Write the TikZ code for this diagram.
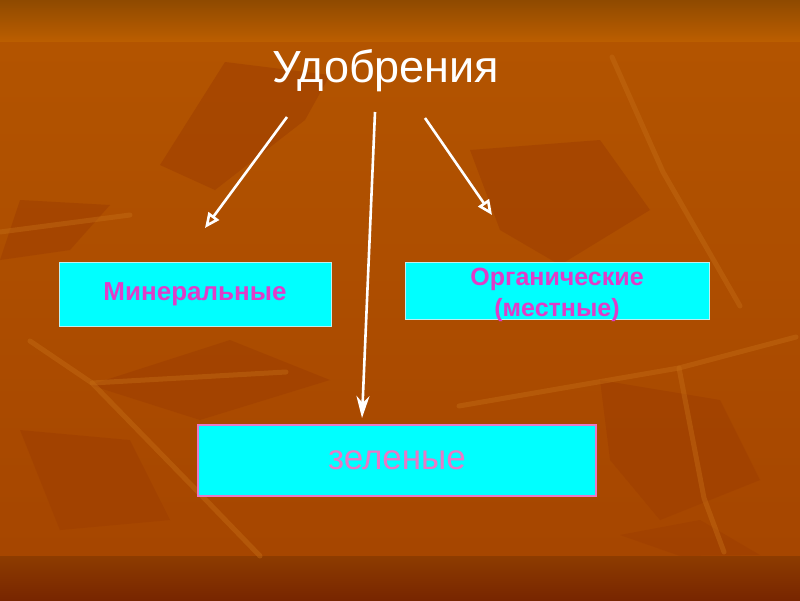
\documentclass[tikz,border=0pt]{standalone}
\usepackage{fontspec}
\setmainfont{Liberation Sans}
\usetikzlibrary{arrows.meta}
\definecolor{bgtop}{HTML}{8F4A00}
\definecolor{bglight}{HTML}{BC5E00}
\definecolor{bgmid}{HTML}{B35400}
\definecolor{bglow}{HTML}{A64600}
\definecolor{bgbot}{HTML}{782600}
\definecolor{leafdark}{HTML}{9E3E00}
\definecolor{leaflight}{HTML}{C46C14}
\definecolor{boxfill}{HTML}{00FFFF}
\definecolor{boxedge}{HTML}{BFEFEF}
\definecolor{txtpink}{HTML}{E03CC8}
\definecolor{softpink}{HTML}{E878C6}
\tikzset{
  box/.style={rectangle,draw=boxedge,fill=boxfill,line width=1pt,align=center,
    inner sep=0pt,text=txtpink,font=\bfseries\fontsize{26}{31}\selectfont},
  boxtext/.style={align=center,inner sep=0pt,text=txtpink,
    font=\bfseries\fontsize{25}{31}\selectfont},
  fl/.style={draw=white,line width=2.6pt,-{Triangle[open,length=15pt,width=13pt]}},
  fm/.style={draw=white,line width=2.6pt,-{Stealth[length=22pt,width=13pt,inset=7pt]}},
  leaf/.style={fill=leafdark,opacity=.55},
  twig/.style={draw=leaflight,line width=5pt,opacity=.45,line cap=round},
}

\begin{document}
\begin{tikzpicture}[x=1pt,y=-1pt]
  \useasboundingbox (0,0) rectangle (800,600);
  % background
  \shade[top color=bgtop,bottom color=bglight] (0,0) rectangle (800,42);
  \shade[top color=bgmid,bottom color=bglow] (0,42) rectangle (800,556);
  \shade[top color=bglow!85!black,bottom color=bgbot] (0,556) rectangle (800,600);
  \fill[leaf] (225,62) -- (330,75) -- (305,120) -- (215,190) -- (160,165) -- cycle;
  \fill[leaf] (470,150) -- (600,140) -- (650,210) -- (560,265) -- (500,230) -- cycle;
  \fill[leaf] (20,200) -- (110,205) -- (70,250) -- (0,260) -- cycle;
  \fill[leaf] (90,385) -- (230,340) -- (330,380) -- (200,420) -- cycle;
  \fill[leaf] (600,380) -- (720,400) -- (760,480) -- (660,520) -- (610,460) -- cycle;
  \fill[leaf] (20,430) -- (130,440) -- (170,520) -- (60,530) -- cycle;
  \fill[leaf] (620,535) -- (700,520) -- (760,555) -- (680,556) -- cycle;
  \draw[twig] (30,341) -- (92,383) -- (204,498) -- (260,556);
  \draw[twig] (92,383) -- (286,372);
  \draw[twig] (612,57) -- (663,172) -- (740,306);
  \draw[twig] (459,406) -- (679,368) -- (796,337);
  \draw[twig] (679,368) -- (704,498) -- (724,552);
  \draw[twig] (0,232) -- (130,215);
  % title and boxes
  \node[text=white,font=\fontsize{45}{50}\selectfont] (title) at (386,71) {Удобрения};
  \node[box,minimum width=272pt,minimum height=64pt] (min) at (195,294) {Минеральные};
  \node[box,minimum width=304pt,minimum height=57pt] (org) at (557,290.5) {};
  \node[boxtext] (orgtxt) at (557,295) {Органические\\(местные)};
  \node[box,draw=softpink,line width=2pt,minimum width=398pt,minimum height=71pt,
    text=softpink,font=\fontsize{35}{40}\selectfont] (zel) at (397,460.5) {зеленые};
  % arrows
  \coordinate (l0) at (287,117); \coordinate (l1) at (205,228);
  \coordinate (m0) at (375,112); \coordinate (m1) at (362,418);
  \coordinate (r0) at (425,118); \coordinate (r1) at (492,215);
  \draw[fl] (l0)--(l1);
  \draw[fm] (m0)--(m1);
  \draw[fl] (r0)--(r1);
\end{tikzpicture}
\end{document}
